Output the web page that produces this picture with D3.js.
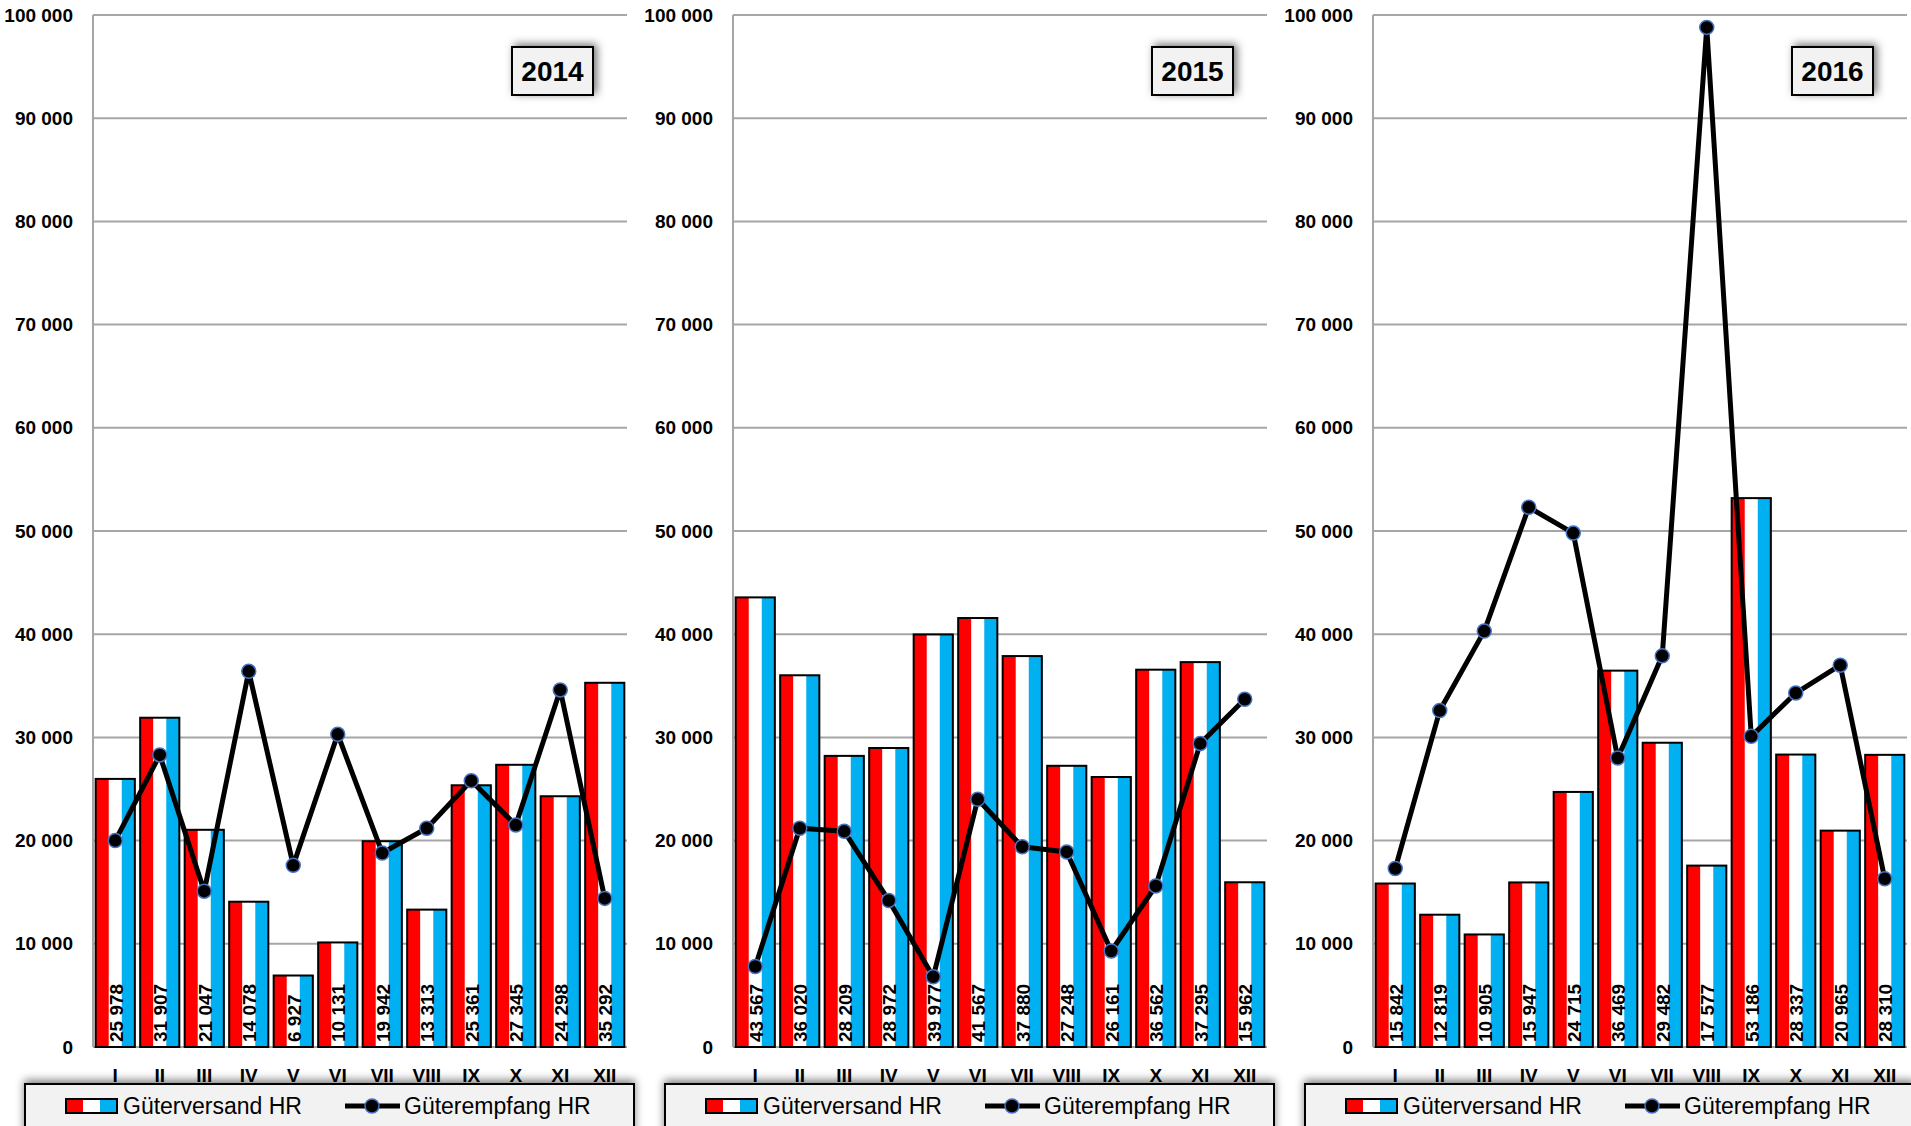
<!DOCTYPE html>
<html>
<head>
  <meta charset="utf-8">
  <title>Güterversand / Güterempfang HR</title>
  <script src="https://d3js.org/d3.v7.min.js"></script>
  <style>
    html, body { margin: 0; height: 100%; overflow: hidden; background: #fff; }
    #chart { width: 1911px; height: 1126px; }
    text { font-family: "Liberation Sans", Arial, sans-serif; }
  </style>
</head>
<body>
  <div id="chart"></div>
  <script>
    const months = ['I', 'II', 'III', 'IV', 'V', 'VI', 'VII', 'VIII', 'IX', 'X', 'XI', 'XII'];
    const years = ['2014', '2015', '2016'];
    const yTicks = [0, 10000, 20000, 30000, 40000, 50000, 60000, 70000, 80000, 90000, 100000];

    // Güterversand HR (bars)
    const versand2014 = [25978, 31907, 21047, 14078, 6927, 10131, 19942, 13313, 25361, 27345, 24298, 35292];
    const versand2015 = [43567, 36020, 28209, 28972, 39977, 41567, 37880, 27248, 26161, 36562, 37295, 15962];
    const versand2016 = [15842, 12819, 10905, 15947, 24715, 36469, 29482, 17577, 53186, 28337, 20965, 28310];

    // Güterempfang HR (line)
    const empfang2014 = [20000, 28300, 15100, 36400, 17600, 30300, 18800, 21200, 25800, 21500, 34600, 14400];
    const empfang2015 = [7800, 21200, 20900, 14200, 6800, 24000, 19400, 18900, 9300, 15600, 29400, 33700];
    const empfang2016 = [17300, 32600, 40300, 52300, 49800, 28000, 37900, 98800, 30100, 34300, 37000, 16300];

    const versand = [versand2014, versand2015, versand2016];
    const empfang = [empfang2014, empfang2015, empfang2016];

    const W = 1911, H = 1126;
    const plotTop = 15, plotBottom = 1047, plotW = 534, panelStep = 640, firstLeft = 93;
    const RED = '#ff0000', BLUE = '#00b0f0', GRID = '#a6a6a6';

    const fmt = d3.formatLocale({ decimal: ',', thousands: ' ', grouping: [3], currency: ['', ''] }).format(',d');

    const svg = d3.select('#chart')
      .append('svg')
      .attr('width', W)
      .attr('height', H)
      .attr('viewBox', [0, 0, W, H]);

    const defs = svg.append('defs');
    defs.append('filter')
      .attr('id', 'shadowBox')
      .attr('x', '-30%').attr('y', '-50%').attr('width', '160%').attr('height', '200%')
      .append('feDropShadow')
      .attr('dx', 3).attr('dy', -2).attr('stdDeviation', 4)
      .attr('flood-color', '#000').attr('flood-opacity', 0.55);
    defs.append('filter')
      .attr('id', 'shadowLegend')
      .attr('x', '-5%').attr('y', '-40%').attr('width', '110%').attr('height', '180%')
      .append('feDropShadow')
      .attr('dx', 0).attr('dy', -3).attr('stdDeviation', 4)
      .attr('flood-color', '#000').attr('flood-opacity', 0.5);

    const y = d3.scaleLinear().domain([0, 100000]).range([plotBottom, plotTop]);

    years.forEach((year, i) => {
      const left = firstLeft + i * panelStep;
      const x = d3.scaleBand().domain(months).range([left, left + plotW])
        .paddingInner(0.12).paddingOuter(0.06);
      const g = svg.append('g').attr('class', 'panel');
      const bars = months.map((m, k) => ({ m, v: versand[i][k] }));
      const pts = months.map((m, k) => ({ m, v: empfang[i][k] }));

      // gridlines
      g.append('g').selectAll('line')
        .data(yTicks)
        .join('line')
        .attr('x1', left).attr('x2', left + plotW)
        .attr('y1', d => y(d)).attr('y2', d => y(d))
        .attr('stroke', GRID).attr('stroke-width', 2);

      // left axis
      g.append('line')
        .attr('x1', left).attr('x2', left)
        .attr('y1', plotTop).attr('y2', plotBottom)
        .attr('stroke', GRID).attr('stroke-width', 2);

      // y tick labels
      g.append('g').selectAll('text')
        .data(yTicks)
        .join('text')
        .attr('x', left - 20)
        .attr('y', d => y(d))
        .attr('dy', '0.35em')
        .attr('text-anchor', 'end')
        .attr('font-size', 19)
        .attr('font-weight', 'bold')
        .text(d => fmt(d));

      // bars: red / white / blue stripes with black outline
      const bw = x.bandwidth();
      const bar = g.append('g').selectAll('g')
        .data(bars)
        .join('g');
      [RED, '#ffffff', BLUE].forEach((c, s) => {
        bar.append('rect')
          .attr('x', d => x(d.m) + s * bw / 3)
          .attr('y', d => y(d.v))
          .attr('width', bw / 3 + 0.5)
          .attr('height', d => y(0) - y(d.v))
          .attr('fill', c);
      });
      bar.append('rect')
        .attr('x', d => x(d.m))
        .attr('y', d => y(d.v))
        .attr('width', bw)
        .attr('height', d => y(0) - y(d.v))
        .attr('fill', 'none')
        .attr('stroke', '#000')
        .attr('stroke-width', 2);

      // value labels
      bar.append('text')
        .attr('transform', d => `translate(${x(d.m) + bw / 2 + 1},${plotBottom - 5}) rotate(-90)`)
        .attr('dy', '0.35em')
        .attr('font-size', 19)
        .attr('font-weight', 'bold')
        .text(d => fmt(d.v));

      // line
      const line = d3.line().x(d => x(d.m) + bw / 2).y(d => y(d.v));
      g.append('path')
        .datum(pts)
        .attr('d', line)
        .attr('fill', 'none')
        .attr('stroke', '#000')
        .attr('stroke-width', 5)
        .attr('stroke-linejoin', 'round');
      g.append('g').selectAll('circle')
        .data(pts)
        .join('circle')
        .attr('cx', d => x(d.m) + bw / 2)
        .attr('cy', d => y(d.v))
        .attr('r', 7)
        .attr('fill', '#000')
        .attr('stroke', '#4472c4')
        .attr('stroke-width', 1.5);

      // month labels
      g.append('g').selectAll('text')
        .data(months)
        .join('text')
        .attr('x', d => x(d) + bw / 2)
        .attr('y', 1082)
        .attr('text-anchor', 'middle')
        .attr('font-size', 19)
        .attr('font-weight', 'bold')
        .text(d => d);

      // year box
      const bx = left + 419, by = 47;
      g.append('rect')
        .attr('x', bx).attr('y', by)
        .attr('width', 81).attr('height', 48)
        .attr('fill', '#f2f2f2')
        .attr('stroke', '#000').attr('stroke-width', 2)
        .attr('filter', 'url(#shadowBox)');
      g.append('text')
        .attr('x', bx + 40.5).attr('y', by + 24)
        .attr('dy', '0.36em')
        .attr('text-anchor', 'middle')
        .attr('font-size', 28)
        .attr('font-weight', 'bold')
        .text(year);

      // legend
      const lx = left - 68, ly = 1084;
      g.append('rect')
        .attr('x', lx).attr('y', ly)
        .attr('width', 609).attr('height', 70)
        .attr('fill', '#f2f2f2')
        .attr('stroke', '#000').attr('stroke-width', 2)
        .attr('filter', 'url(#shadowLegend)');
      [RED, '#ffffff', BLUE].forEach((c, s) => {
        g.append('rect')
          .attr('x', lx + 41 + s * 17).attr('y', ly + 15)
          .attr('width', 17).attr('height', 14)
          .attr('fill', c);
      });
      g.append('rect')
        .attr('x', lx + 41).attr('y', ly + 15)
        .attr('width', 51).attr('height', 14)
        .attr('fill', 'none')
        .attr('stroke', '#000').attr('stroke-width', 2);
      g.append('text')
        .attr('x', lx + 98).attr('y', ly + 30)
        .attr('font-size', 23)
        .text('Güterversand HR');
      g.append('line')
        .attr('x1', lx + 320).attr('x2', lx + 375)
        .attr('y1', ly + 22).attr('y2', ly + 22)
        .attr('stroke', '#000').attr('stroke-width', 5);
      g.append('circle')
        .attr('cx', lx + 347).attr('cy', ly + 22).attr('r', 7)
        .attr('fill', '#000').attr('stroke', '#4472c4').attr('stroke-width', 1.5);
      g.append('text')
        .attr('x', lx + 379).attr('y', ly + 30)
        .attr('font-size', 23)
        .text('Güterempfang HR');
    });
  </script>
</body>
</html>
